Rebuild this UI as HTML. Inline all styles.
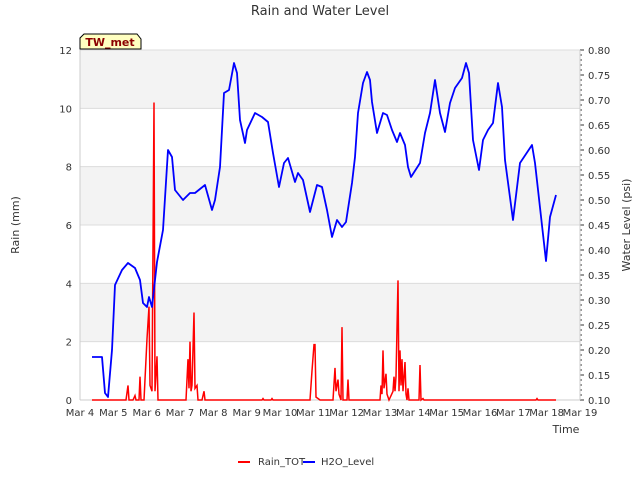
<!DOCTYPE html>
<html><head><meta charset="utf-8"><style>
body{margin:0;background:#fff;font-family:"Liberation Sans","DejaVu Sans",sans-serif}
svg text{font-family:"DejaVu Sans","Liberation Sans",sans-serif}
</style></head><body>
<svg id="c" width="640" height="480" xmlns="http://www.w3.org/2000/svg">
<text x="320" y="15" text-anchor="middle" font-size="13" fill="#333">Rain and Water Level</text>
<g id="bands"></g>
<g id="grid"></g>
<g id="axes"></g>
<g id="series"></g>
<g>
<path d="M84,34 L137,34 L141,39 L141,49 L80,49 L80,38 Z" fill="#ffffc0" stroke="#000" stroke-width="1"/>
<text x="110" y="46" text-anchor="middle" font-size="11" font-weight="bold" fill="#8b0000">TW_met</text>
</g>
<text transform="translate(19,225) rotate(-90)" text-anchor="middle" font-size="11" fill="#333">Rain (mm)</text>
<text transform="translate(630,225) rotate(-90)" text-anchor="middle" font-size="11" fill="#333">Water Level (psi)</text>
<text x="566" y="433" text-anchor="middle" font-size="11" fill="#333">Time</text>
<g>
<g><line x1="238" y1="462" x2="250" y2="462" stroke="#f00" stroke-width="2"/><text x="258" y="465" font-size="10" fill="#333">Rain_TOT</text></g>
<g><line x1="303" y1="462" x2="315" y2="462" stroke="#00f" stroke-width="2"/><text x="321" y="465" font-size="10" fill="#333">H2O_Level</text></g>
</g>
</svg>
<script>
const xTickLabels=["Mar 4","Mar 5","Mar 6","Mar 7","Mar 8","Mar 9","Mar 10","Mar 11","Mar 12","Mar 13","Mar 14","Mar 15","Mar 16","Mar 17","Mar 18","Mar 19"];
const leftTicks=[0,2,4,6,8,10,12];
const rightTicks=[0.10,0.15,0.20,0.25,0.30,0.35,0.40,0.45,0.50,0.55,0.60,0.65,0.70,0.75,0.80];
const waterDays=[0.36,0.66,0.75,0.84,0.96,1.05,1.26,1.44,1.65,1.80,1.89,2.01,2.07,2.16,2.31,2.49,2.64,2.76,2.85,3.09,3.30,3.45,3.75,3.96,4.05,4.20,4.32,4.47,4.62,4.71,4.80,4.95,5.01,5.25,5.46,5.64,5.79,5.97,6.12,6.24,6.45,6.54,6.69,6.90,7.11,7.26,7.41,7.56,7.71,7.86,7.98,8.16,8.25,8.34,8.49,8.61,8.70,8.76,8.91,9.00,9.09,9.21,9.36,9.51,9.60,9.75,9.84,9.93,10.20,10.35,10.50,10.65,10.80,10.95,11.10,11.25,11.46,11.58,11.67,11.79,11.97,12.09,12.24,12.39,12.54,12.66,12.75,12.99,13.20,13.56,13.65,13.98,14.10,14.28];
const waterLevel=[0.186,0.186,0.114,0.106,0.20,0.33,0.36,0.374,0.364,0.34,0.294,0.286,0.306,0.286,0.376,0.44,0.60,0.586,0.52,0.50,0.514,0.514,0.53,0.48,0.50,0.566,0.714,0.72,0.774,0.754,0.66,0.614,0.64,0.674,0.666,0.656,0.594,0.526,0.574,0.584,0.536,0.554,0.54,0.476,0.53,0.526,0.48,0.426,0.46,0.446,0.456,0.534,0.586,0.674,0.734,0.756,0.74,0.696,0.634,0.654,0.674,0.67,0.64,0.616,0.634,0.61,0.566,0.546,0.574,0.634,0.674,0.74,0.674,0.636,0.694,0.724,0.744,0.774,0.754,0.62,0.56,0.62,0.64,0.654,0.734,0.686,0.58,0.46,0.574,0.61,0.574,0.378,0.466,0.51];
const rainDays=[0.36,1.38,1.44,1.47,1.59,1.65,1.68,1.77,1.80,1.83,1.92,2.01,2.07,2.10,2.16,2.22,2.25,2.31,2.34,3.18,3.24,3.27,3.30,3.33,3.36,3.42,3.45,3.51,3.54,3.66,3.72,3.75,5.46,5.49,5.52,5.73,5.76,5.79,6.90,6.96,7.02,7.05,7.08,7.14,7.20,7.59,7.65,7.68,7.74,7.77,7.83,7.86,7.89,8.01,8.04,8.07,9.00,9.03,9.06,9.09,9.12,9.18,9.21,9.27,9.39,9.42,9.45,9.48,9.54,9.57,9.60,9.63,9.66,9.69,9.75,9.78,9.81,9.84,9.87,10.17,10.20,10.23,10.29,10.32,13.68,13.71,13.74,14.28];
const rainTot=[0,0,0.5,0,0,0.15,0,0,0.8,0,0,2.1,3.2,0.5,0.3,10.2,0.3,1.5,0,0,1.4,0.4,2.0,0.3,0.5,3.0,0.4,0.5,0,0,0.3,0,0,0.05,0,0,0.05,0,0,1.0,1.9,1.9,0.1,0.05,0,0,1.1,0.3,0.7,0.2,0,2.5,0,0,0.7,0,0,0.5,0.2,1.7,0.4,0.9,0.2,0,0.3,0.8,0.3,0.8,4.1,0.3,1.7,0.5,1.4,0.3,1.3,0.2,0,0.4,0,0,1.2,0,0.05,0,0,0.05,0,0];

const NS="http://www.w3.org/2000/svg";
const L=80,R=580,T=50,B=400;
const xs=d=>L+d*(R-L)/15;
const yl=v=>B-v*(B-T)/12;
const yr=v=>B-(v-0.10)*(B-T)/0.70;
function mk(tag,attrs,parent,text){const e=document.createElementNS(NS,tag);for(const k in attrs)e.setAttribute(k,attrs[k]);if(text!==undefined)e.textContent=text;parent.appendChild(e);return e;}
const bands=document.getElementById('bands'),grid=document.getElementById('grid'),axes=document.getElementById('axes'),series=document.getElementById('series');
for(let i=0;i<leftTicks.length-1;i++){
  if(i%2===1){const b=mk('rect',{x:L,y:yl(leftTicks[i+1]),width:R-L,height:yl(leftTicks[i])-yl(leftTicks[i+1]),fill:'#f3f3f3'},bands);
  
  }
}
leftTicks.forEach(v=>{
  const g=mk('line',{x1:L,x2:R,y1:yl(v),y2:yl(v),stroke:'#dcdcdc','stroke-width':1},grid);
  
  
  const t=mk('text',{x:L-8,y:yl(v)+4,'text-anchor':'end','font-size':10,fill:'#333'},axes,String(v));
  
  
});
rightTicks.forEach(v=>{
  const t=mk('text',{x:R+8,y:yr(v)+4,'font-size':10,fill:'#333'},axes,v.toFixed(2));
  
  
  mk('line',{x1:R,x2:R+4,y1:yr(v),y2:yr(v),stroke:'#333'},axes);
});
for(let k=0;k<=70;k++){const v=0.10+k*0.01;mk('line',{x1:R,x2:R+2,y1:yr(v),y2:yr(v),stroke:'#333'},axes);}
mk('line',{x1:L,x2:L,y1:T,y2:B,stroke:'#ccc'},axes);
mk('line',{x1:R,x2:R,y1:T,y2:B,stroke:'#ccc'},axes);
mk('line',{x1:L,x2:R,y1:B,y2:B,stroke:'#ccc'},axes);
xTickLabels.forEach((s,i)=>{
  const t=mk('text',{x:xs(i),y:416,'text-anchor':'middle','font-size':10,fill:'#333'},axes,s);
  
  
});
const rp=mk('polyline',{points:rainDays.map((d,i)=>xs(d)+','+yl(rainTot[i])).join(' '),fill:'none',stroke:'#f00','stroke-width':1.5},series);


const wp=mk('polyline',{points:waterDays.map((d,i)=>xs(d)+','+yr(waterLevel[i])).join(' '),fill:'none',stroke:'#00f','stroke-width':1.8,'stroke-linejoin':'round'},series);


</script>
</body></html>
